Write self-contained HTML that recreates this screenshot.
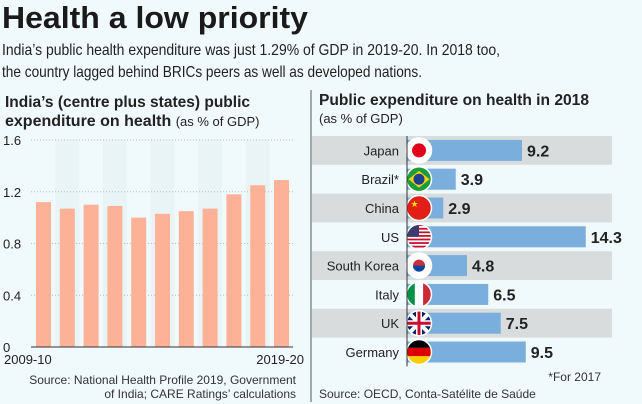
<!DOCTYPE html>
<html><head><meta charset="utf-8"><style>
html,body{margin:0;padding:0;background:#f0f9fb;}
svg{display:block;font-family:"Liberation Sans",sans-serif;}
</style></head><body>
<svg id="c" width="642" height="404" viewBox="0 0 642 404">
<rect width="642" height="404" fill="#f0f9fb"/>
<text x="2" y="28" font-size="31" font-weight="bold" fill="#1a1a1a" textLength="306" lengthAdjust="spacingAndGlyphs">Health a low priority</text>
<text x="2" y="55" font-size="16" fill="#222" textLength="498" lengthAdjust="spacingAndGlyphs">India’s public health expenditure was just 1.29% of GDP in 2019-20. In 2018 too,</text>
<text x="2" y="77" font-size="16" fill="#222" textLength="420" lengthAdjust="spacingAndGlyphs">the country lagged behind BRICs peers as well as developed nations.</text>
<line x1="311" y1="90" x2="311" y2="402" stroke="#555" stroke-width="1"/>
<text x="5" y="107" font-size="16" font-weight="bold" fill="#222" textLength="245" lengthAdjust="spacingAndGlyphs">India’s (centre plus states) public</text>
<text x="5" y="126" font-size="16" fill="#222"><tspan font-weight="bold">expenditure on health</tspan> <tspan font-size="13">(as % of GDP)</tspan></text>
<g id="left"></g>
<text x="296" y="384" font-size="12" fill="#333" text-anchor="end">Source: National Health Profile 2019, Government</text>
<text x="296" y="398" font-size="12" fill="#333" text-anchor="end">of India; CARE Ratings’ calculations</text>
<text x="319" y="105" font-size="16" font-weight="bold" fill="#222" textLength="270" lengthAdjust="spacingAndGlyphs">Public expenditure on health in 2018</text>
<text x="319" y="123" font-size="13" fill="#222">(as % of GDP)</text>
<g id="right"></g>
<text x="601" y="381" font-size="12" fill="#333" text-anchor="end">*For 2017</text>
<text x="319" y="398" font-size="12" fill="#333">Source: OECD, Conta-Satélite de Saúde</text>
</svg>
<script>
const years = ["2009-10","2010-11","2011-12","2012-13","2013-14","2014-15","2015-16","2016-17","2017-18","2018-19","2019-20"];
const spend = [1.12,1.07,1.10,1.09,1.00,1.03,1.05,1.07,1.18,1.25,1.29];
const yTicks = [0,0.4,0.8,1.2,1.6];
const countries = ["Japan","Brazil*","China","US","South Korea","Italy","UK","Germany"];
const pubSpend = [9.2,3.9,2.9,14.3,4.8,6.5,7.5,9.5];
const NS="http://www.w3.org/2000/svg";
function mk(t,a,p){const e=document.createElementNS(NS,t);for(const k in a)e.setAttribute(k,a[k]);p.appendChild(e);return e;}
// left chart
const L=document.getElementById('left');
const y0=347,y1=140,xl=31,xr=293;
const ys=v=>y0-(v/1.6)*(y0-y1);
const pitch=238/(years.length-1);
const xs=i=>36+i*pitch;
years.forEach((y,i)=>{if(i%2==1){const b=mk('rect',{x:xs(i)-4.4,y:y1,width:pitch,height:y0-y1,fill:'#e9f4f6'},L);

}});
yTicks.forEach(t=>{
 if(t>0){const g=mk('line',{x1:xl,x2:xr,y1:ys(t),y2:ys(t),stroke:'#bbb','stroke-dasharray':'1,2'},L);
 
 }
 const tx=mk('text',{x:3,y:ys(t)+5,'font-size':13,fill:'#222'},L);tx.textContent=t===0?'0':t.toFixed(1);
 
 
});
spend.forEach((v,i)=>{
 const r=mk('rect',{x:xs(i),y:ys(v),width:15,height:y0-ys(v),fill:'#fdb196'},L);
 
 
});
const ax=mk('line',{x1:xl,x2:xr,y1:y0,y2:y0,stroke:'#333','stroke-width':1},L);


const xa=mk('text',{x:4,y:364,'font-size':13,fill:'#222'},L);xa.textContent=years[0];


const xb=mk('text',{x:304,y:364,'font-size':13,fill:'#222','text-anchor':'end'},L);xb.textContent=years[years.length-1];


// right chart
const R=document.getElementById('right');
const ax0=407,scale=12.5,rowTop=136,rowH=28.8;
countries.forEach((c,i)=>{
 const top=rowTop+i*rowH,cy=top+rowH/2;
 if(i%2==0){const b=mk('rect',{x:312,y:top,width:300,height:rowH,fill:'#d9dcdd'},R);
 
 }
 const bar=mk('rect',{x:ax0,y:cy-10.5,width:pubSpend[i]*scale,height:21,fill:'#7aaedc'},R);
 
 
 const lb=mk('text',{x:ax0-8,y:cy+5,'font-size':13,fill:'#222','text-anchor':'end'},R);lb.textContent=c;
 
 
 const vl=mk('text',{x:ax0+pubSpend[i]*scale+5,y:cy+6,'font-size':16,'font-weight':'bold',fill:'#222'},R);vl.textContent=pubSpend[i].toFixed(1);
 
 
 const fx=419,fr=12.5;
 const g=mk('g',{},R);
 
 
 const cid='cl'+i;const cp=mk('clipPath',{id:cid},g);mk('circle',{cx:fx,cy:cy,r:fr},cp);
 const f=mk('g',{'clip-path':'url(#'+cid+')'},g);
 const X=fx-fr,Y=cy-fr,W=2*fr;
 const flags={
 0:()=>{mk('rect',{x:X,y:Y,width:W,height:W,fill:'#fff'},f);mk('circle',{cx:fx,cy:cy,r:7,fill:'#e0001a'},f);},
 1:()=>{mk('rect',{x:X,y:Y,width:W,height:W,fill:'#1a9c3c'},f);mk('polygon',{points:`${X+2},${cy} ${fx},${Y+4} ${X+W-2},${cy} ${fx},${Y+W-4}`,fill:'#f7d117'},f);mk('circle',{cx:fx,cy:cy,r:5.5,fill:'#1f3f8f'},f);},
 2:()=>{mk('rect',{x:X,y:Y,width:W,height:W,fill:'#e21f16'},f);mk('text',{x:X+4,y:cy-1,'font-size':9,fill:'#ffde00'},f).textContent='★';},
 3:()=>{mk('rect',{x:X,y:Y,width:W,height:W,fill:'#fff'},f);for(let k=0;k<7;k++)mk('rect',{x:X,y:Y+k*W/7,width:W,height:W/14,fill:'#c8102e'},f);mk('rect',{x:X,y:Y,width:W*0.5,height:W*0.5,fill:'#3c3b6e'},f);},
 4:()=>{mk('rect',{x:X,y:Y,width:W,height:W,fill:'#fff'},f);mk('circle',{cx:fx,cy:cy,r:6,fill:'#cd2e3a'},f);mk('path',{d:`M${fx-6},${cy} A6,6 0 0 0 ${fx+6},${cy} Z`,fill:'#0047a0'},f);},
 5:()=>{mk('rect',{x:X,y:Y,width:W/3,height:W,fill:'#009246'},f);mk('rect',{x:X+W/3,y:Y,width:W/3,height:W,fill:'#fff'},f);mk('rect',{x:X+2*W/3,y:Y,width:W/3,height:W,fill:'#ce2b37'},f);},
 6:()=>{mk('rect',{x:X,y:Y,width:W,height:W,fill:'#012169'},f);mk('path',{d:`M${X},${Y}L${X+W},${Y+W}M${X+W},${Y}L${X},${Y+W}`,stroke:'#fff','stroke-width':4},f);mk('path',{d:`M${fx},${Y}V${Y+W}M${X},${cy}H${X+W}`,stroke:'#fff','stroke-width':6},f);mk('path',{d:`M${fx},${Y}V${Y+W}M${X},${cy}H${X+W}`,stroke:'#c8102e','stroke-width':3},f);},
 7:()=>{mk('rect',{x:X,y:Y,width:W,height:W/3,fill:'#000'},f);mk('rect',{x:X,y:Y+W/3,width:W,height:W/3,fill:'#dd0000'},f);mk('rect',{x:X,y:Y+2*W/3,width:W,height:W/3,fill:'#ffce00'},f);}
 };
 flags[i]();
 mk('circle',{cx:fx,cy:cy,r:fr,fill:'none',stroke:'#fff','stroke-width':1.5},g);
});
const rax=mk('line',{x1:ax0,x2:ax0,y1:rowTop,y2:rowTop+8*rowH,stroke:'#333'},R);


</script>
</body></html>
